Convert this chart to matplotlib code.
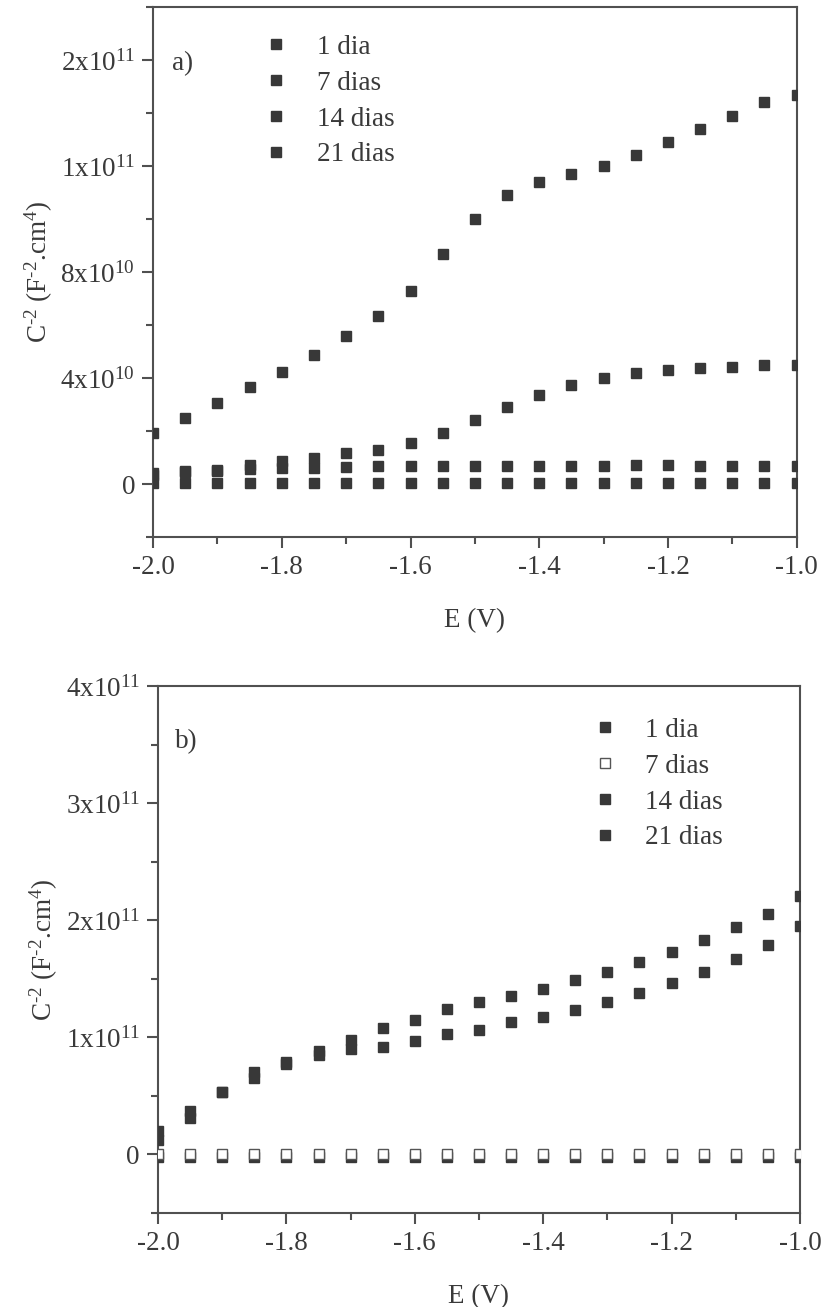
"""Mott-Schottky plots (C^-2 vs E) for panels a) and b)."""
import matplotlib
matplotlib.use("Agg")
import matplotlib.pyplot as plt
from matplotlib.ticker import FixedLocator, FixedFormatter, MultipleLocator
from matplotlib.lines import Line2D

plt.rcParams["font.family"] = ["Liberation Serif", "DejaVu Serif"]
plt.rcParams["mathtext.fontset"] = "custom"
plt.rcParams["mathtext.rm"] = "Liberation Serif"
plt.rcParams["mathtext.it"] = "Liberation Serif:italic"

INK = "#3a3a3a"
MARK = "#383838"

# potential (V), shared by both panels
E = [-2.00, -1.95, -1.90, -1.85, -1.80, -1.75, -1.70, -1.65, -1.60, -1.55, -1.50,
     -1.45, -1.40, -1.35, -1.30, -1.25, -1.20, -1.15, -1.10, -1.05, -1.00]

labels = ["1 dia", "7 dias", "14 dias", "21 dias"]

# panel a, values in 1e10 F^-2 cm^4
a_1d = [0.03, 0.03, 0.03, 0.03, 0.03, 0.03, 0.03, 0.03, 0.03, 0.03, 0.03,
        0.03, 0.03, 0.03, 0.03, 0.03, 0.03, 0.03, 0.03, 0.03, 0.03]
a_7d = [0.35, 0.45, 0.50, 0.57, 0.60, 0.62, 0.63, 0.68, 0.68, 0.68, 0.68,
        0.68, 0.68, 0.68, 0.68, 0.70, 0.70, 0.68, 0.68, 0.68, 0.68]
a_14d = [0.40, 0.50, 0.53, 0.72, 0.87, 0.99, 1.18, 1.29, 1.56, 1.94, 2.40,
         2.90, 3.35, 3.73, 4.00, 4.18, 4.30, 4.37, 4.41, 4.49, 4.50]
a_21d = [1.94, 2.50, 3.04, 3.65, 4.22, 4.87, 5.59, 6.35, 7.30, 8.67, 10.0,
         10.9, 11.4, 11.7, 12.0, 12.4, 12.9, 13.4, 13.9, 14.4, 14.7]

# panel b, values in 1e11 F^-2 cm^4
b_1d = [-0.025] * 21
b_7d = [0.0] * 21
b_14d = [0.12, 0.31, 0.53, 0.65, 0.77, 0.85, 0.90, 0.92, 0.97, 1.03, 1.06,
         1.13, 1.17, 1.23, 1.30, 1.38, 1.46, 1.56, 1.67, 1.79, 1.95]
b_21d = [0.20, 0.37, 0.53, 0.70, 0.79, 0.88, 0.98, 1.08, 1.15, 1.24, 1.30,
         1.35, 1.41, 1.49, 1.56, 1.64, 1.73, 1.83, 1.94, 2.05, 2.21]

# y tick labels as printed on the original figure
a_yticks = [0, 4e10, 8e10, 1.2e11, 1.6e11]
a_ytlabels = ["0", r"4x10$^{\mathregular{10}}$", r"8x10$^{\mathregular{10}}$",
              r"1x10$^{\mathregular{11}}$", r"2x10$^{\mathregular{11}}$"]
b_yticks = [0, 1e11, 2e11, 3e11, 4e11]
b_ytlabels = ["0", r"1x10$^{\mathregular{11}}$", r"2x10$^{\mathregular{11}}$",
              r"3x10$^{\mathregular{11}}$", r"4x10$^{\mathregular{11}}$"]
xt = [-2.0, -1.8, -1.6, -1.4, -1.2, -1.0]

FS = 19.5
MS = 7.8
# U+2010 hyphen keeps the short dash of the original instead of a math minus
YLABEL = "C$^{\\mathregular{\u20102}}$ (F$^{\\mathregular{\u20102}}$.cm$^{\\mathregular{4}}$)"


def style(ax, yticks, ytlabels, yminor):
    for s in ax.spines.values():
        s.set_color("#505050")
        s.set_linewidth(1.5)
    ax.set_xlim(-2.0, -1.0)
    ax.set_xticks(xt)
    ax.set_xticklabels([f"{v:.1f}" for v in xt])
    ax.xaxis.set_minor_locator(MultipleLocator(0.1))
    ax.yaxis.set_major_locator(FixedLocator(yticks))
    ax.yaxis.set_major_formatter(FixedFormatter(ytlabels))
    ax.yaxis.set_minor_locator(MultipleLocator(yminor))
    ax.tick_params(which="both", direction="out", color="#505050", width=1.5,
                   labelsize=FS, labelcolor=INK, top=False, right=False)
    ax.tick_params(which="major", length=8, pad=5)
    ax.tick_params(which="minor", length=5)
    ax.set_xlabel("E (V)", fontsize=FS, color=INK, labelpad=20)
    ax.set_ylabel(YLABEL, fontsize=FS, color=INK, labelpad=4)


fig = plt.figure(figsize=(8.23, 13.07), dpi=100)

# ---- panel a ----
ax1 = fig.add_axes([0.186, 0.5891, 0.782, 0.4055])
for vals in (a_1d, a_7d, a_14d, a_21d):
    ax1.plot(E, [v * 1e10 for v in vals], "s", ms=MS, color=MARK, mec=MARK,
             ls="none", zorder=3)
ax1.set_ylim(-2e10, 1.8e11)
style(ax1, a_yticks, a_ytlabels, 2e10)
ax1.text(0.03, 0.894, "a)", transform=ax1.transAxes, fontsize=FS, color=INK,
         va="center")
h_a = [Line2D([], [], marker="s", ls="none", ms=MS, color=MARK) for _ in labels]
ax1.legend(h_a, labels, loc="upper left", bbox_to_anchor=(0.132, 0.968),
           frameon=False, fontsize=FS, handletextpad=0.5, labelspacing=0.4,
           borderaxespad=0, labelcolor=INK)

# ---- panel b ----
ax2 = fig.add_axes([0.192, 0.0719, 0.780, 0.4032])
ax2.plot(E, [v * 1e11 for v in b_1d], "s", ms=MS, color=MARK, mec=MARK, zorder=3)
ax2.plot(E, [v * 1e11 for v in b_7d], "s", ms=6.8, mfc="white", mec="#555555",
         mew=1.0, zorder=4)
ax2.plot(E, [v * 1e11 for v in b_14d], "s", ms=MS, color=MARK, mec=MARK, zorder=3)
ax2.plot(E, [v * 1e11 for v in b_21d], "s", ms=MS, color=MARK, mec=MARK, zorder=3)
ax2.set_ylim(-0.5e11, 4e11)
style(ax2, b_yticks, b_ytlabels, 0.5e11)
ax2.text(0.026, 0.894, "b)", transform=ax2.transAxes, fontsize=FS, color=INK,
         va="center")
h_b = [Line2D([], [], marker="s", ls="none", ms=6.8, color=MARK),
       Line2D([], [], marker="s", ls="none", ms=6.8, mfc="white", mec="#555555", mew=1.0),
       Line2D([], [], marker="s", ls="none", ms=6.8, color=MARK),
       Line2D([], [], marker="s", ls="none", ms=6.8, color=MARK)]
ax2.legend(h_b, labels, loc="upper left", bbox_to_anchor=(0.637, 0.96),
           frameon=False, fontsize=FS, handletextpad=0.5, labelspacing=0.4,
           borderaxespad=0, labelcolor=INK)

fig.savefig("out.png", dpi=100)
